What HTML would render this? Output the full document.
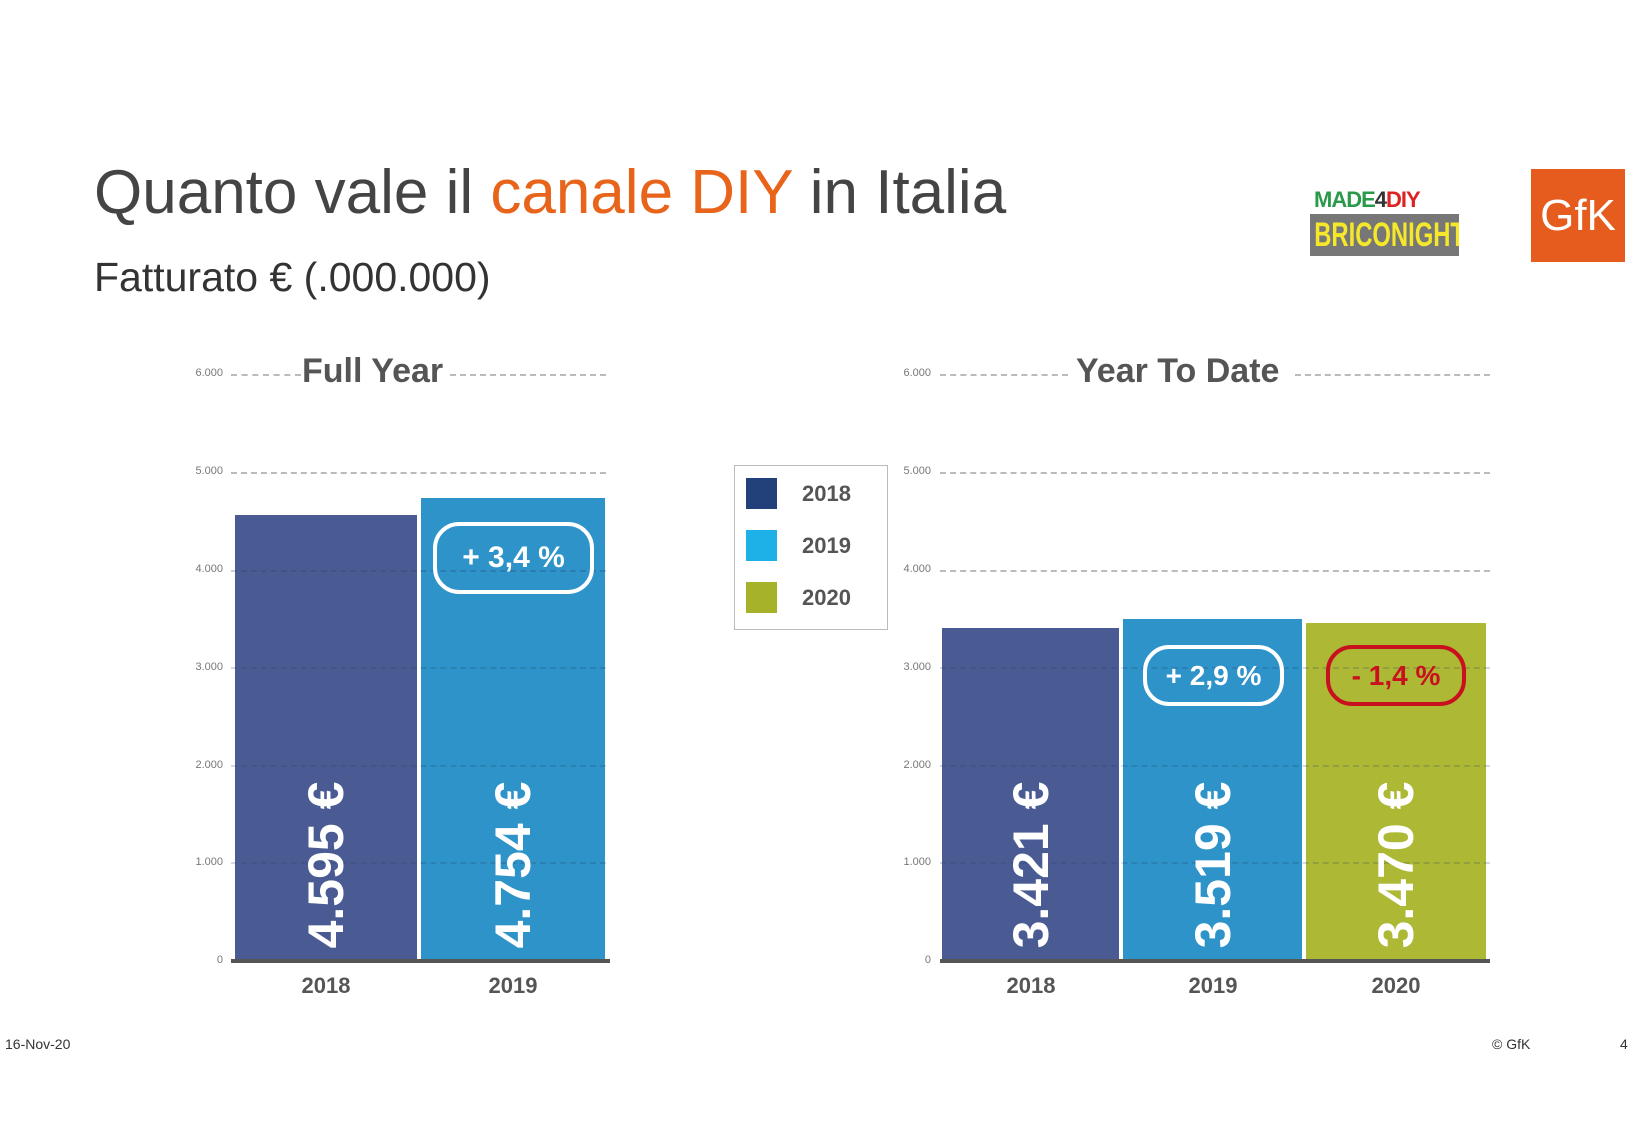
<!DOCTYPE html>
<html><head><meta charset="utf-8"><style>
body{margin:0;width:1640px;height:1134px;background:#fff;position:relative;overflow:hidden;font-family:"Liberation Sans",sans-serif;color:#444}
.a{position:absolute}
.bar{position:absolute}
.val{position:absolute;color:#fff;font-weight:bold;font-size:50px;white-space:nowrap;transform:translate(-50%,-50%) rotate(-90deg);}
.pill{position:absolute;border:4px solid #fff;border-radius:26px;box-sizing:border-box;color:#fff;font-weight:bold;font-size:30px;display:flex;align-items:center;justify-content:center}
.tick{position:absolute;font-size:11px;color:#777;text-align:right;width:40px}
.grid{position:absolute;height:0;border-top:2px dashed #bbb}
.yr{position:absolute;font-size:22px;color:#555;font-weight:bold;width:100px;text-align:center}
</style></head><body>
<div class="a" style="left:94px;top:157px;font-size:62px;color:#444;white-space:nowrap">Quanto vale il <span style="color:#e8641b">canale DIY</span> in Italia</div>
<div class="a" style="left:94px;top:254px;font-size:41px;color:#333;white-space:nowrap">Fatturato € (.000.000)</div>
<!-- logos -->
<div class="a" style="left:1314px;top:187px;font-size:22px;font-weight:bold;letter-spacing:-1px"><span style="color:#2a9a4a">MADE</span><span style="color:#333">4</span><span style="color:#d22">DIY</span></div>
<div class="a" style="left:1310px;top:214px;width:149px;height:42px;background:#777;overflow:hidden"><div style="color:#f5e82a;font-weight:bold;font-size:34px;line-height:42px;white-space:nowrap;transform:scaleX(0.7);transform-origin:0 0;padding-left:6px">BRICONIGHT</div></div>
<div class="a" style="left:1531px;top:169px;width:94px;height:93px;background:#e55c1e;color:#fff;font-size:44px;line-height:93px;text-align:center">GfK</div>

<!-- left chart -->
<div class="grid" style="left:231px;top:374px;width:70px"></div>
<div class="grid" style="left:450px;top:374px;width:156px"></div>
<div class="a" style="left:302px;top:352px;font-size:34px;font-weight:bold;color:#555">Full Year</div>
<div class="grid" style="left:231px;top:472px;width:375px"></div>
<div class="tick" style="left:183px;top:367px">6.000</div>
<div class="tick" style="left:183px;top:465px">5.000</div>
<div class="tick" style="left:183px;top:563px">4.000</div>
<div class="tick" style="left:183px;top:661px">3.000</div>
<div class="tick" style="left:183px;top:759px">2.000</div>
<div class="tick" style="left:183px;top:856px">1.000</div>
<div class="tick" style="left:183px;top:954px">0</div>
<div class="bar" style="left:235px;top:515px;width:182px;height:445px;background:#4a5b94"></div>
<div class="bar" style="left:421px;top:498px;width:184px;height:462px;background:#2e93c9"></div>
<div class="grid" style="left:231px;top:570px;width:375px;border-color:rgba(40,60,100,.25)"></div>
<div class="grid" style="left:231px;top:667px;width:375px;border-color:rgba(40,60,100,.2)"></div>
<div class="grid" style="left:231px;top:765px;width:375px;border-color:rgba(40,60,100,.2)"></div>
<div class="grid" style="left:231px;top:862px;width:375px;border-color:rgba(40,60,100,.2)"></div>
<div class="a" style="left:231px;top:959px;width:379px;height:4px;background:#555"></div>
<div class="val" style="left:326px;top:865px">4.595 €</div>
<div class="val" style="left:513px;top:865px">4.754 €</div>
<div class="pill" style="left:433px;top:522px;width:161px;height:72px">+ 3,4 %</div>
<div class="yr" style="left:276px;top:973px">2018</div>
<div class="yr" style="left:463px;top:973px">2019</div>

<!-- legend -->
<div class="a" style="left:734px;top:465px;width:154px;height:165px;border:1px solid #bbb;box-sizing:border-box"></div>
<div class="a" style="left:746px;top:478px;width:31px;height:31px;background:#22407a"></div>
<div class="a" style="left:746px;top:530px;width:31px;height:31px;background:#1eb1e7"></div>
<div class="a" style="left:746px;top:582px;width:31px;height:31px;background:#a6b22a"></div>
<div class="a" style="left:802px;top:481px;font-size:22px;font-weight:bold;color:#555">2018</div>
<div class="a" style="left:802px;top:533px;font-size:22px;font-weight:bold;color:#555">2019</div>
<div class="a" style="left:802px;top:585px;font-size:22px;font-weight:bold;color:#555">2020</div>

<!-- right chart -->
<div class="grid" style="left:940px;top:374px;width:128px"></div>
<div class="grid" style="left:1295px;top:374px;width:195px"></div>
<div class="a" style="left:1076px;top:352px;font-size:34px;font-weight:bold;color:#555">Year To Date</div>
<div class="grid" style="left:940px;top:472px;width:550px"></div>
<div class="grid" style="left:940px;top:570px;width:550px"></div>
<div class="tick" style="left:891px;top:367px">6.000</div>
<div class="tick" style="left:891px;top:465px">5.000</div>
<div class="tick" style="left:891px;top:563px">4.000</div>
<div class="tick" style="left:891px;top:661px">3.000</div>
<div class="tick" style="left:891px;top:759px">2.000</div>
<div class="tick" style="left:891px;top:856px">1.000</div>
<div class="tick" style="left:891px;top:954px">0</div>
<div class="bar" style="left:942px;top:628px;width:177px;height:332px;background:#4a5b94"></div>
<div class="bar" style="left:1123px;top:619px;width:179px;height:341px;background:#2e93c9"></div>
<div class="bar" style="left:1306px;top:623px;width:180px;height:337px;background:#adb834"></div>
<div class="grid" style="left:940px;top:667px;width:550px;border-color:rgba(40,60,100,.2)"></div>
<div class="grid" style="left:940px;top:765px;width:550px;border-color:rgba(40,60,100,.2)"></div>
<div class="grid" style="left:940px;top:862px;width:550px;border-color:rgba(40,60,100,.2)"></div>
<div class="a" style="left:940px;top:959px;width:550px;height:4px;background:#555"></div>
<div class="val" style="left:1031px;top:865px">3.421 €</div>
<div class="val" style="left:1213px;top:865px">3.519 €</div>
<div class="val" style="left:1396px;top:865px">3.470 €</div>
<div class="pill" style="left:1143px;top:645px;width:141px;height:61px;font-size:28px">+ 2,9 %</div>
<div class="pill" style="left:1326px;top:645px;width:140px;height:61px;font-size:28px;border-color:#c8101e;color:#c8101e">- 1,4 %</div>
<div class="yr" style="left:981px;top:973px">2018</div>
<div class="yr" style="left:1163px;top:973px">2019</div>
<div class="yr" style="left:1346px;top:973px">2020</div>

<div class="a" style="left:5px;top:1036px;font-size:14px;color:#333">16-Nov-20</div>
<div class="a" style="left:1492px;top:1036px;font-size:14px;color:#333">© GfK</div>
<div class="a" style="left:1620px;top:1036px;font-size:14px;color:#333">4</div>
</body></html>
